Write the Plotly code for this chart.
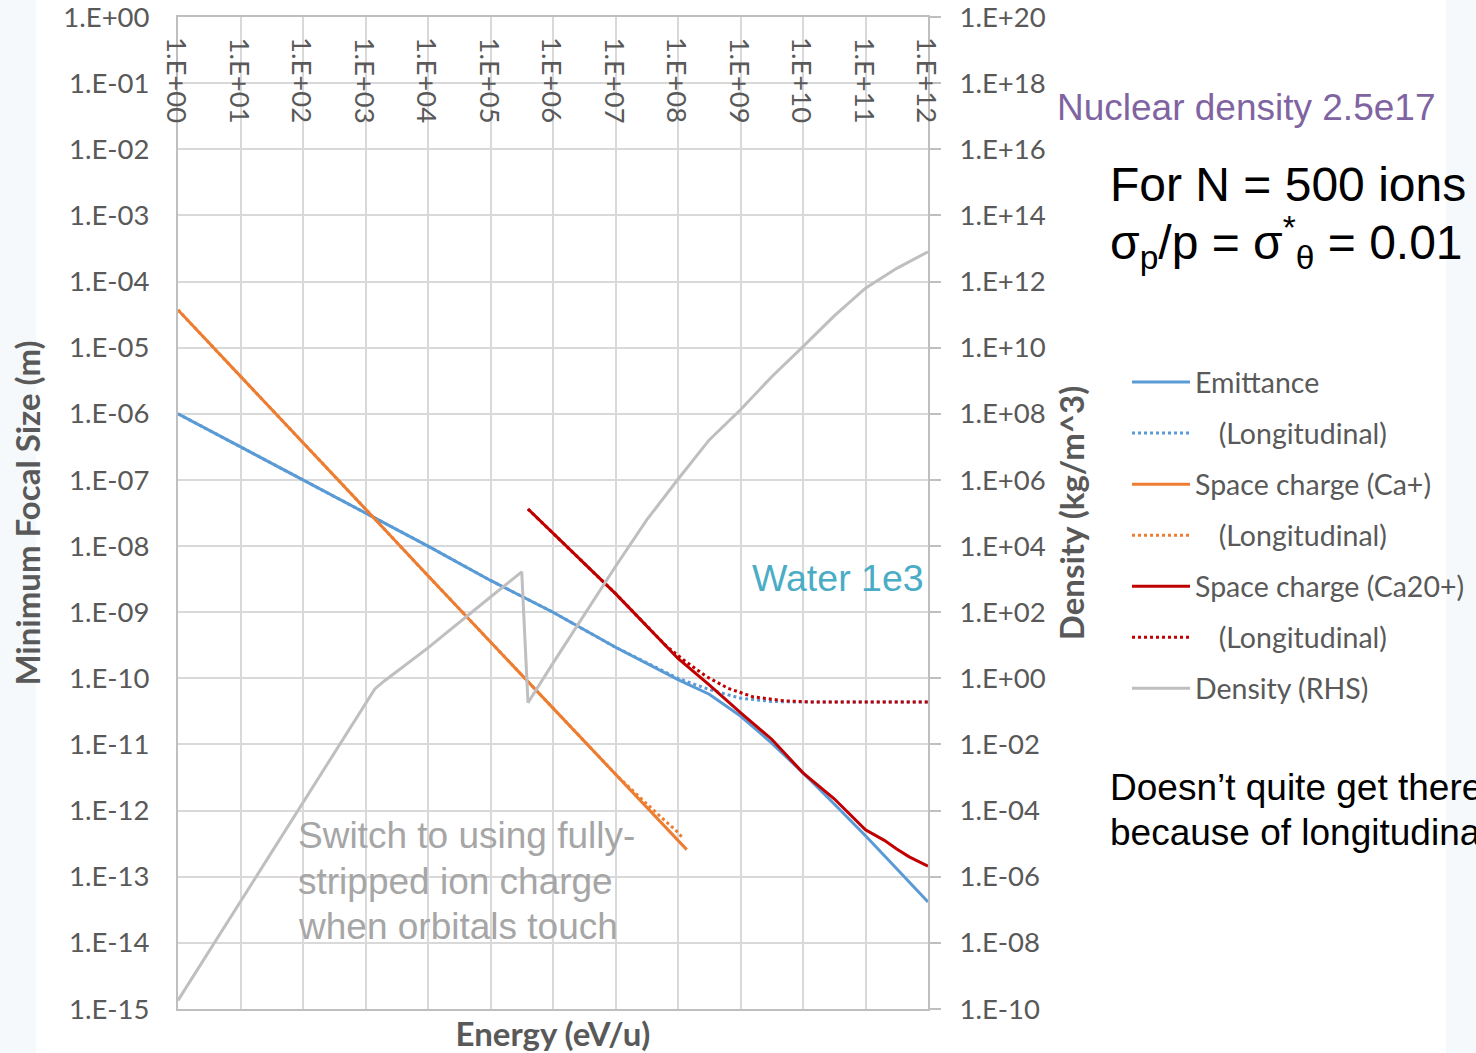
import math
import plotly.graph_objects as go

# ---------------- data ----------------
# Energy (eV/u) tick values and labels
x_ticks = [1e0, 1e1, 1e2, 1e3, 1e4, 1e5, 1e6, 1e7, 1e8, 1e9, 1e10, 1e11, 1e12]
x_ticktext = ["1.E+00", "1.E+01", "1.E+02", "1.E+03", "1.E+04", "1.E+05", "1.E+06",
              "1.E+07", "1.E+08", "1.E+09", "1.E+10", "1.E+11", "1.E+12"]
y_ticks = [1e0, 1e-1, 1e-2, 1e-3, 1e-4, 1e-5, 1e-6, 1e-7, 1e-8, 1e-9, 1e-10,
           1e-11, 1e-12, 1e-13, 1e-14, 1e-15]
y_ticktext = ["1.E+00", "1.E-01", "1.E-02", "1.E-03", "1.E-04", "1.E-05", "1.E-06",
              "1.E-07", "1.E-08", "1.E-09", "1.E-10", "1.E-11", "1.E-12", "1.E-13",
              "1.E-14", "1.E-15"]
y2_ticks = [1e20, 1e18, 1e16, 1e14, 1e12, 1e10, 1e8, 1e6, 1e4, 1e2, 1e0,
            1e-2, 1e-4, 1e-6, 1e-8, 1e-10]
y2_ticktext = ["1.E+20", "1.E+18", "1.E+16", "1.E+14", "1.E+12", "1.E+10", "1.E+08",
               "1.E+06", "1.E+04", "1.E+02", "1.E+00", "1.E-02", "1.E-04", "1.E-06",
               "1.E-08", "1.E-10"]

# Emittance (solid)
emit_E = [1e0, 1e1, 1e2, 1e3, 1e4, 1e5, 1e6, 1e7, 1e8, 3.16e8, 1e9, 3.16e9,
          1e10, 3.16e10, 1e11, 3.16e11, 1e12]
emit_V = [1e-6, 3.16e-7, 1e-7, 3.16e-8, 1e-8, 3.02e-9, 1e-9, 2.95e-10, 9.55e-11,
          5.75e-11, 2.69e-11, 1.05e-11, 3.72e-12, 1.26e-12, 4.17e-13, 1.32e-13, 4.17e-14]

# Emittance (longitudinal, dotted)
emitL_E = [1e0, 1e1, 1e2, 1e3, 1e4, 1e5, 1e6, 1e7, 3.16e7, 1e8, 3.16e8, 1e9,
           3.16e9, 1e10, 1e11, 1e12]
emitL_V = [1e-6, 3.16e-7, 1e-7, 3.16e-8, 1e-8, 3.02e-9, 1e-9, 2.95e-10, 1.70e-10,
           1e-10, 6.76e-11, 5.01e-11, 4.47e-11, 4.37e-11, 4.37e-11, 4.37e-11]

# Space charge (Ca+) solid
ca1_E = [1e0, 1e1, 1e2, 1e3, 1e4, 1e5, 1e6, 1e7, 1e8, 1.38e8]
ca1_V = [3.72e-5, 3.72e-6, 3.72e-7, 3.63e-8, 3.55e-9, 3.55e-10, 3.55e-11,
         3.55e-12, 3.55e-13, 2.57e-13]

# Space charge (Ca+) longitudinal
ca1L_E = [1e0, 1e1, 1e2, 1e3, 1e4, 1e5, 1e6, 1e7, 3.16e7, 1e8, 1.15e8]
ca1L_V = [3.72e-5, 3.72e-6, 3.72e-7, 3.63e-8, 3.55e-9, 3.55e-10, 3.55e-11,
          3.55e-12, 1.26e-12, 4.68e-13, 3.98e-13]

# Space charge (Ca20+) solid
ca20_E = [3.98e5, 1e6, 1e7, 1e8, 3.16e8, 1e9, 3.16e9, 1e10, 3.16e10, 1e11,
          2e11, 3.16e11, 5.01e11, 1e12]
ca20_V = [3.63e-8, 1.55e-8, 1.91e-9, 2.0e-10, 7.94e-11, 3.02e-11, 1.2e-11,
          3.72e-12, 1.51e-12, 5.13e-13, 3.55e-13, 2.63e-13, 2.0e-13, 1.45e-13]

# Space charge (Ca20+) longitudinal
ca20L_E = [3.98e5, 1e6, 1e7, 6.31e7, 1.26e8, 2.82e8, 6.31e8, 1.58e9, 5.01e9,
           1.58e10, 1e11, 1e12]
ca20L_V = [3.63e-8, 1.55e-8, 1.91e-9, 3.16e-10, 1.86e-10, 1.07e-10, 7.08e-11,
           5.25e-11, 4.57e-11, 4.37e-11, 4.37e-11, 4.37e-11]

# Density (RHS, kg/m^3)
dens_E = [1e0, 1e1, 1e2, 1e3, 1.41e3, 2e3, 1e4, 1e5, 3.16e5, 3.98e5, 1e6, 1e7,
          3.16e7, 1e8, 3.16e8, 1e9, 3.16e9, 1e10, 3.16e10, 1e11, 1.58e11, 3.16e11, 1e12]
dens_D = [1.82e-10, 1.82e-7, 1.82e-4, 0.182, 0.479, 0.832, 8.32, 288, 1660, 0.182,
          2.88, 2400, 6.17e4, 1.05e6, 1.62e7, 1.32e8, 1.32e9, 1.07e10, 9.12e10,
          6.31e11, 1.12e12, 2.51e12, 7.94e12]

# ---------------- layout helpers ----------------
W, H = 1476, 1053
L, R, T, B = 178, 928, 17, 1009


def px_x(px):
    return (px - L) / (R - L)


def px_y(py):
    return (B - py) / (B - T)


GRID = "#D9D9D9"
AXL = "#BFBFBF"
TXT = "#595959"
TICKFONT = dict(family="Lato", size=27.5, color=TXT)
TITLEFONT = dict(family="Lato", size=33, color=TXT, weight="bold")

BLUE = "#5B9BD5"
ORANGE = "#ED7D31"
RED = "#C00000"
GRAY = "#BFBFBF"

IND = "\u00a0\u00a0\u00a0\u200a"

fig = go.Figure()

series = [
    (emit_E, emit_V, "Emittance", BLUE, "solid", "y"),
    (emitL_E, emitL_V, IND + "(Longitudinal)", BLUE, "dot", "y"),
    (ca1_E, ca1_V, "Space charge (Ca+)", ORANGE, "solid", "y"),
    (ca1L_E, ca1L_V, IND + "(Longitudinal)", ORANGE, "dot", "y"),
    (ca20_E, ca20_V, "Space charge (Ca20+)", RED, "solid", "y"),
    (ca20L_E, ca20L_V, IND + "(Longitudinal)", RED, "dot", "y"),
    (dens_E, dens_D, "Density (RHS)", GRAY, "solid", "y2"),
]
for i, (xe, yv, name, col, dash, ya) in enumerate(series):
    fig.add_trace(go.Scatter(
        x=xe, y=yv, name=name, mode="lines", yaxis=ya,
        legendgroup="g%d" % i,
        line=dict(color=col, width=3, dash=dash),
    ))

fig.update_layout(
    width=W, height=H,
    margin=dict(l=L, r=W - R, t=T, b=H - B, pad=0, autoexpand=False),
    paper_bgcolor="white", plot_bgcolor="white",
    font=dict(family="Lato", color=TXT),
    showlegend=True,
    legend=dict(
        x=px_x(1127), y=px_y(357), xanchor="left", yanchor="top",
        font=dict(family="Lato", size=28.5, color=TXT),
        bgcolor="rgba(0,0,0,0)", tracegroupgap=11, itemwidth=58,
    ),
    xaxis=dict(
        type="log", range=[0, 12], tickvals=x_ticks, showticklabels=False,
        showgrid=True, gridcolor=GRID, gridwidth=2, ticks="", automargin=False,
        showline=True, linecolor=AXL, linewidth=2, mirror=True,
        title=dict(text="Energy (eV/u)", standoff=16, font=TITLEFONT),
    ),
    yaxis=dict(
        type="log", range=[-15, 0], tickvals=y_ticks, ticktext=y_ticktext,
        tickfont=TICKFONT, showgrid=True, gridcolor=GRID, gridwidth=2,
        ticks="", showline=True, linecolor=AXL, linewidth=2, automargin=False,
        ticklabelstandoff=21, ticklabeloverflow="allow",
        title=dict(text="Minimum Focal Size (m)", standoff=13, font=TITLEFONT),
    ),
    yaxis2=dict(
        type="log", range=[-10, 20], overlaying="y", side="right", anchor="x",
        tickvals=y2_ticks, ticktext=y2_ticktext, tickfont=TICKFONT, automargin=False,
        showgrid=False, ticks="outside", ticklen=11, tickcolor=AXL, tickwidth=2,
        showline=True, linecolor=AXL, linewidth=2, ticklabelstandoff=13,
        ticklabeloverflow="allow",
        title=dict(text="Density (kg/m^3)", standoff=16, font=TITLEFONT),
    ),
)

# energy tick labels drawn inside the plot along its top edge, rotated
for v, t in zip(x_ticks, x_ticktext):
    fig.add_annotation(
        text=t, x=math.log10(v), xref="x", y=px_y(35), yref="paper",
        xanchor="center", yanchor="top", textangle=90, showarrow=False,
        font=TICKFONT,
    )

# slide background tint at the edges
fig.add_shape(type="rect", xref="paper", yref="paper", x0=px_x(0), x1=px_x(36),
              y0=px_y(H), y1=px_y(0), fillcolor="#F5F9FC", line=dict(width=0), layer="below")
fig.add_shape(type="rect", xref="paper", yref="paper", x0=px_x(1446), x1=px_x(W),
              y0=px_y(H), y1=px_y(0), fillcolor="#F5F9FC", line=dict(width=0), layer="below")

ARIAL = "Liberation Sans"
annos = [
    dict(text="Nuclear density 2.5e17", x=1055, y=108, size=37, color="#8064A2"),
    dict(text="For N = 500 ions", x=1108, y=185, size=48, color="#000000"),
    dict(text="\u03c3<sub>p</sub>/p = \u03c3<sup>*</sup><sub>\u03b8</sub> = 0.01",
         x=1108, y=243, size=48, color="#000000"),
    dict(text="Water 1e3", x=750, y=578, size=37.5, color="#4BACC6"),
    dict(text="Switch to using fully-", x=296, y=835, size=37, color="#A6A6A6"),
    dict(text="stripped ion charge", x=296, y=881, size=37, color="#A6A6A6"),
    dict(text="when orbitals touch", x=296, y=926, size=37, color="#A6A6A6"),
    dict(text="Doesn\u2019t quite get there", x=1108, y=787, size=37, color="#000000"),
    dict(text="because of longitudinal", x=1108, y=832, size=37, color="#000000"),
]
for a in annos:
    fig.add_annotation(
        text=a["text"], x=px_x(a["x"]), y=px_y(a["y"]), xref="paper", yref="paper",
        xanchor="left", yanchor="middle", align="left", showarrow=False,
        font=dict(family=ARIAL, size=a["size"], color=a["color"]),
    )

fig.write_html("out.html", post_script="document.body.style.margin='0';document.body.style.padding='0';")
